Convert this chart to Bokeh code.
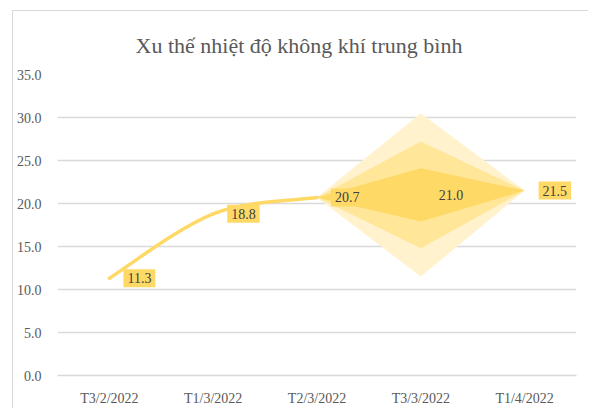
from bokeh.plotting import figure
from bokeh.models import Range1d, Label, FixedTicker, NumeralTickFormatter
from bokeh.embed import file_html
from bokeh.resources import INLINE

# ---- data ----
title_text = "Xu thế nhiệt độ không khí trung bình"
categories = ["T3/2/2022", "T1/3/2022", "T2/3/2022", "T3/3/2022", "T1/4/2022"]
values = [11.3, 18.8, 20.7, 21.0, 21.5]
n_actual = 3                      # first three points are observed (solid line)
band_inner = [0.0, 3.1, 0.0]      # half-widths of fan around forecast points 2..4
band_mid = [0.0, 6.2, 0.0]
band_outer = [0.0, 9.5, 0.0]
y_ticks = [0, 5, 10, 15, 20, 25, 30, 35]

# ---- styles ----
FONT = "Liberation Serif, DejaVu Serif, Times New Roman, serif"
LINE_COL = "#FFD966"
BOX_COL = "#FFD966"
C_INNER = "#FFD966"
C_MID = "#FFE699"
C_OUTER = "#FFF2CC"
GRID_COL = "#D9D9D9"
TICK_COL = "#595959"

p = figure(width=576, height=398, output_backend="svg", toolbar_location=None,
           x_range=Range1d(-0.5, 4.5), y_range=Range1d(0, 35),
           min_border_left=44, min_border_right=13, min_border_top=63, min_border_bottom=34)
p.styles = {"margin-left": "12px", "margin-top": "10px",
            "border-left": "1px solid #D9D9D9", "border-top": "1px solid #D9D9D9"}
p.outline_line_color = None
p.background_fill_color = "white"
p.border_fill_color = "white"

# title
p.title.text = title_text
p.title.align = "left"
p.title.offset = 78
p.title.standoff = 34
p.title.text_font = FONT
p.title.text_font_size = "22px"
p.title.text_font_style = "normal"
p.title.text_color = TICK_COL

# axes
p.xaxis.ticker = FixedTicker(ticks=list(range(len(categories))))
p.xaxis.major_label_overrides = {i: c for i, c in enumerate(categories)}
p.xaxis.axis_line_color = GRID_COL
p.xaxis.axis_line_width = 1.3
p.xaxis.major_tick_line_color = None
p.xaxis.minor_tick_line_color = None
p.xaxis.major_label_standoff = 9
p.xaxis.major_label_text_font = FONT
p.xaxis.major_label_text_font_size = "14px"
p.xaxis.major_label_text_color = TICK_COL

p.yaxis.ticker = FixedTicker(ticks=y_ticks)
p.yaxis.formatter = NumeralTickFormatter(format="0.0")
p.yaxis.axis_line_color = None
p.yaxis.major_tick_line_color = None
p.yaxis.minor_tick_line_color = None
p.yaxis.major_label_standoff = 10
p.yaxis.major_label_text_font = FONT
p.yaxis.major_label_text_font_size = "14px"
p.yaxis.major_label_text_color = TICK_COL

p.xgrid.grid_line_color = None
p.ygrid.grid_line_color = GRID_COL
p.ygrid.grid_line_width = 1.3

# fan chart (forecast) from point n_actual-1 to the end
fx = list(range(n_actual - 1, len(values)))
fv = values[n_actual - 1:]
for band, col in [(band_outer, C_OUTER), (band_mid, C_MID), (band_inner, C_INNER)]:
    xs = fx + fx[::-1]
    ys = [v + b for v, b in zip(fv, band)] + [v - b for v, b in zip(fv[::-1], band[::-1])]
    p.patch(xs, ys, fill_color=col, line_color=None)

# smoothed observed line (Catmull-Rom style bezier, like spreadsheet smoothing)
ax = list(range(n_actual))
av = values[:n_actual]
x0s, y0s, x1s, y1s, cx0s, cy0s, cx1s, cy1s = [], [], [], [], [], [], [], []
for i in range(n_actual - 1):
    pxm = ax[max(i - 1, 0)]; pym = av[max(i - 1, 0)]
    pxp = ax[min(i + 2, n_actual - 1)]; pyp = av[min(i + 2, n_actual - 1)]
    x0s.append(ax[i]); y0s.append(av[i]); x1s.append(ax[i + 1]); y1s.append(av[i + 1])
    cx0s.append(ax[i] + (ax[i + 1] - pxm) / 6); cy0s.append(av[i] + (av[i + 1] - pym) / 6)
    cx1s.append(ax[i + 1] - (pxp - ax[i]) / 6); cy1s.append(av[i + 1] - (pyp - av[i]) / 6)
p.bezier(x0=x0s, y0=y0s, x1=x1s, y1=y1s, cx0=cx0s, cy0=cy0s, cx1=cx1s, cy1=cy1s,
         line_color=LINE_COL, line_width=3.5, line_cap="round")

# data labels
for i, v in enumerate(values):
    p.add_layout(Label(x=i, y=v, text=f"{v:.1f}", x_offset=14,
                       text_align="left", text_baseline="middle",
                       text_font=FONT, text_font_size="14px", text_color="#404040",
                       background_fill_color=BOX_COL, padding=4))

open("out.html", "w").write(file_html(p, INLINE))
